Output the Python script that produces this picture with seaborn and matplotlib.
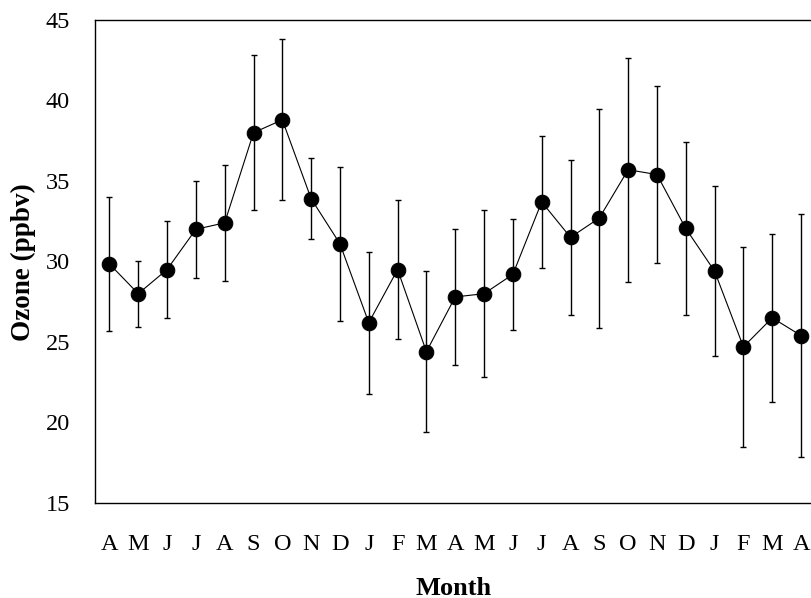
import matplotlib
matplotlib.use("Agg")
import matplotlib.pyplot as plt
import seaborn as sns
import pandas as pd
import numpy as np

months = ["A", "M", "J", "J", "A", "S", "O", "N", "D", "J", "F", "M",
          "A", "M", "J", "J", "A", "S", "O", "N", "D", "J", "F", "M", "A"]
ozone = [29.85, 28.0, 29.5, 32.0, 32.4, 38.0, 38.8, 33.9, 31.1, 26.2, 29.5, 24.4,
         27.8, 28.0, 29.2, 33.7, 31.5, 32.7, 35.7, 35.4, 32.05, 29.4, 24.7, 26.5, 25.4]
err = [4.15, 2.05, 3.0, 3.0, 3.6, 4.8, 5.0, 2.5, 4.8, 4.4, 4.3, 5.0,
       4.2, 5.2, 3.45, 4.1, 4.8, 6.8, 6.95, 5.5, 5.4, 5.3, 6.2, 5.2, 7.55]
yticks = [15, 20, 25, 30, 35, 40, 45]

sns.set_style("white")
SERIF = ['Liberation Serif', 'DejaVu Serif']
plt.rcParams['font.family'] = SERIF
plt.rcParams['text.color'] = 'black'
plt.rcParams['axes.labelcolor'] = 'black'
plt.rcParams['xtick.color'] = 'black'
plt.rcParams['ytick.color'] = 'black'

df = pd.DataFrame({"idx": np.arange(len(months)), "ozone": ozone, "err": err})

fig = plt.figure(figsize=(8.12, 5.98), dpi=100)
ax = fig.add_axes([95/812, 95/598, 717/812, 483/598])

ax.errorbar(df["idx"], df["ozone"], yerr=df["err"], fmt="none",
            ecolor="black", elinewidth=1.0, capsize=2.2, capthick=1.0, zorder=2)
sns.lineplot(data=df, x="idx", y="ozone", ax=ax, color="black", linewidth=0.8,
             marker="o", markersize=10.5, markeredgecolor="black",
             markerfacecolor="black", zorder=3)

ax.set_xlim(-0.5, 24.38)
ax.set_ylim(15, 45)
ax.set_yticks(yticks)
ax.set_yticklabels([str(v) for v in yticks], fontsize=17.5, family=SERIF)

ax.set_xticks(np.arange(len(months)) - 0.5)
ax.set_xticklabels([])
ax.set_xticks(np.arange(len(months)), minor=True)
ax.set_xticklabels(months, minor=True, fontsize=17.5, family=SERIF)
ax.tick_params(axis="x", which="major", direction="out", length=8, width=1.0, color="black")
ax.tick_params(axis="x", which="minor", length=0, pad=22, colors="black")
ax.tick_params(axis="y", direction="out", length=8, width=1.0, color="black",
               pad=10, labelcolor="black")

for s in ["left", "bottom", "top"]:
    ax.spines[s].set_visible(True)
    ax.spines[s].set_color("black")
    ax.spines[s].set_linewidth(1.0)
ax.spines["right"].set_visible(False)

ax.set_xlabel("Month", fontsize=19, fontweight="bold", color="black", va="center",
              family=SERIF)
ax.xaxis.set_label_coords(0.5, -0.176)
ax.set_ylabel("Ozone (ppbv)", fontsize=19.5, fontweight="bold", color="black", va="center",
              family=SERIF)
ax.yaxis.set_label_coords(-0.1004, 0.498)

fig.savefig("out.png", dpi=100)
